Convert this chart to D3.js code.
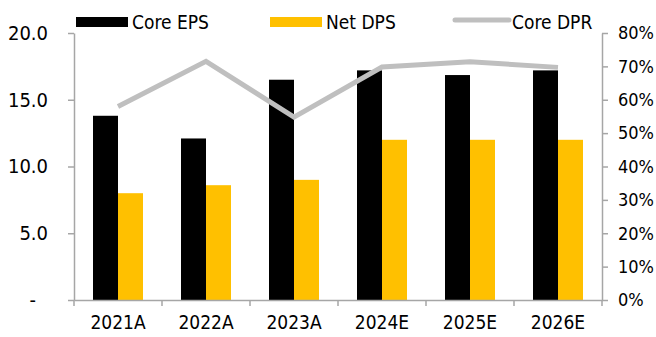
<!DOCTYPE html>
<html>
<head>
<meta charset="utf-8">
<script src="https://cdn.jsdelivr.net/npm/d3@7/dist/d3.min.js"></script>
<style>
  body { margin: 0; background: #fff; }
  text { font-family: "DejaVu Sans Condensed", "DejaVu Sans", sans-serif; font-stretch: condensed; fill: #000; }
  .axis path, .axis line { stroke: #a6a6a6; stroke-width: 1.5; }
</style>
</head>
<body>
<div id="chart-area"></div>
<script>
// data
var years = ["2021A", "2022A", "2023A", "2024E", "2025E", "2026E"];
var coreEps = [13.8, 12.1, 16.5, 17.2, 16.85, 17.2];
var netDps = [8.0, 8.6, 9.0, 12.0, 12.0, 12.0];
var coreDpr = [0.58, 0.715, 0.548, 0.698, 0.714, 0.697];
var leftTicks = [0, 5, 10, 15, 20];
var rightTicks = [0, 0.1, 0.2, 0.3, 0.4, 0.5, 0.6, 0.7, 0.8];

var margin = { top: 33, right: 54, bottom: 37, left: 74 };
var width = 656 - margin.left - margin.right;
var height = 337 - margin.top - margin.bottom;

var svg = d3.select("#chart-area").append("svg")
    .attr("width", 656)
    .attr("height", 337);

var g = svg.append("g")
    .attr("transform", "translate(" + margin.left + "," + margin.top + ")");

// scales
var x = d3.scaleBand().domain(years).range([0, width]);
var xs = d3.scaleBand().domain(["eps", "dps"])
    .range([(x.bandwidth() - 50) / 2, (x.bandwidth() + 50) / 2]);
var y = d3.scaleLinear().domain([0, 20]).range([height, 0]);
var y2 = d3.scaleLinear().domain([0, 0.8]).range([height, 0]);

// bars
var rows = years.map(function (d, i) {
    return { year: d, eps: coreEps[i], dps: netDps[i], dpr: coreDpr[i] };
});

g.selectAll("rect.eps").data(rows).enter()
    .append("rect")
    .attr("class", "eps")
    .attr("x", function (d) { return x(d.year) + xs("eps"); })
    .attr("y", function (d) { return y(d.eps); })
    .attr("width", xs.bandwidth())
    .attr("height", function (d) { return height - y(d.eps); })
    .attr("fill", "#000");

g.selectAll("rect.dps").data(rows).enter()
    .append("rect")
    .attr("class", "dps")
    .attr("x", function (d) { return x(d.year) + xs("dps"); })
    .attr("y", function (d) { return y(d.dps); })
    .attr("width", xs.bandwidth())
    .attr("height", function (d) { return height - y(d.dps); })
    .attr("fill", "#ffc000");

// left axis
var yAxis = g.append("g").attr("class", "axis")
    .call(d3.axisLeft(y).tickValues(leftTicks).tickSize(6).tickSizeOuter(0).tickPadding(20)
        .tickFormat(function (d) { return d === 0 ? "-" : d3.format(".1f")(d); }));
yAxis.selectAll("text").style("font-size", "20px")
    .attr("dx", function (d) { return d === 0 ? "-12" : 0; });

// right axis
var y2Axis = g.append("g").attr("class", "axis")
    .attr("transform", "translate(" + width + ",0)")
    .call(d3.axisRight(y2).tickValues(rightTicks).tickSize(6).tickSizeOuter(0).tickPadding(10)
        .tickFormat(d3.format(".0%")));
y2Axis.selectAll("text").style("font-size", "18px");

// bottom axis: labels centred, ticks on category boundaries
var xAxis = g.append("g").attr("class", "axis")
    .attr("transform", "translate(0," + height + ")")
    .call(d3.axisBottom(x).tickSize(0).tickSizeOuter(0).tickPadding(16));
xAxis.selectAll("text").style("font-size", "19px");
var bounds = years.map(function (d) { return x(d); }).concat([x.range()[1]]);
xAxis.selectAll("line.bound").data(bounds).enter()
    .append("line")
    .attr("class", "bound")
    .attr("x1", function (d) { return d; })
    .attr("x2", function (d) { return d; })
    .attr("y1", 0)
    .attr("y2", 6);

// DPR line
var line = d3.line()
    .x(function (d) { return x(d.year) + x.bandwidth() / 2; })
    .y(function (d) { return y2(d.dpr); });
g.append("path")
    .datum(rows)
    .attr("d", line)
    .attr("fill", "none")
    .attr("stroke", "#bfbfbf")
    .attr("stroke-width", 5);

// legend
var legend = svg.append("g");
legend.append("rect").attr("x", 76).attr("y", 17).attr("width", 52).attr("height", 10).attr("fill", "#000");
legend.append("text").attr("x", 132).attr("y", 29).style("font-size", "19px").text("Core EPS");
legend.append("rect").attr("x", 270).attr("y", 17).attr("width", 52).attr("height", 10).attr("fill", "#ffc000");
legend.append("text").attr("x", 326).attr("y", 29).style("font-size", "19px").text("Net DPS");
legend.append("line").attr("x1", 455).attr("x2", 509).attr("y1", 20).attr("y2", 20)
    .attr("stroke", "#bfbfbf").attr("stroke-width", 5).attr("stroke-linecap", "round");
legend.append("text").attr("x", 512).attr("y", 29).style("font-size", "19px").text("Core DPR");
</script>
</body>
</html>
